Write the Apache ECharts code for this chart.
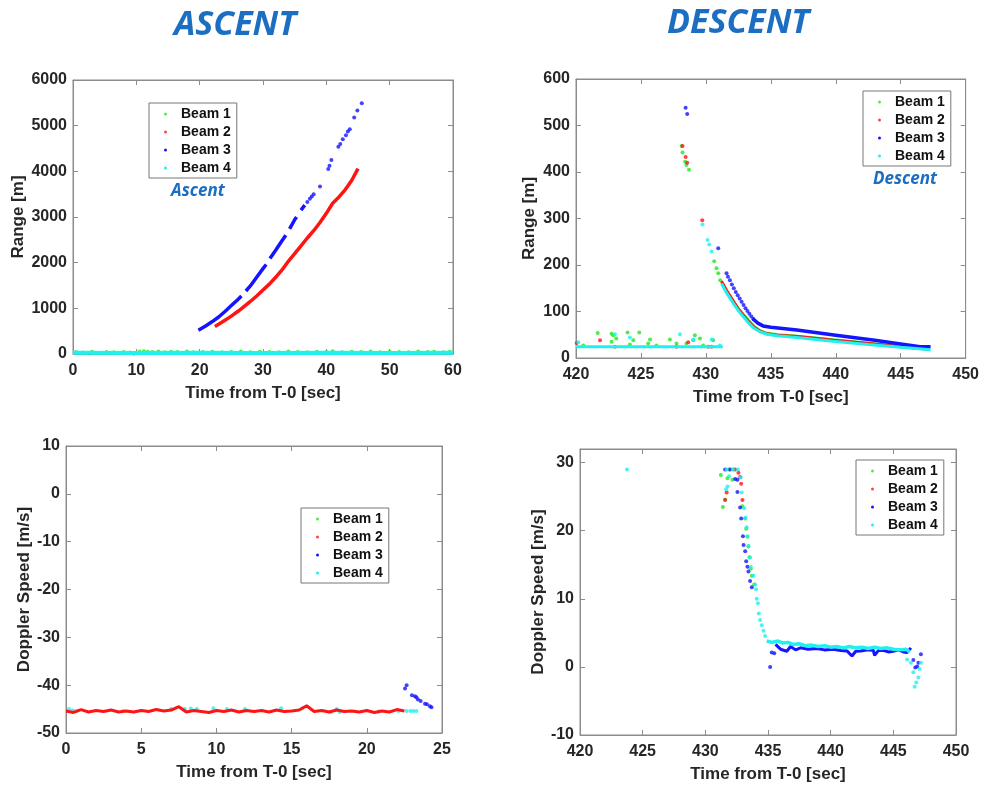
<!DOCTYPE html>
<html>
<head>
<meta charset="utf-8">
<script src="https://cdn.jsdelivr.net/npm/echarts@6/dist/echarts.min.js"></script>
<style>
  html, body { margin: 0; padding: 0; background: #fff; }
  #chart { width: 982px; height: 786px; }
</style>
</head>
<body>
<div id="chart"></div>
<script>
// ---- data ----
const beamNames = ['Beam 1', 'Beam 2', 'Beam 3', 'Beam 4'];
const beamColors = ['#1fe81f', '#ff1414', '#1414ff', '#1ff0f0'];

// ascent, range [m] vs time [s]
const ascRangeB1 = [[0.5,45],[1.5,35],[3,50],[5.3,45],[6.5,38],[8,45],[9,35],[10.5,55],[11.2,60],[11.8,50],[12.5,45],[13.5,55],[14.5,40],[15.5,50],[16.5,45],[18,55],[19,40],[20.5,45],[22,50],[23.5,40],[25,45],[26.5,55],[28,40],[29.5,50],[31,45],[32.5,40],[34,55],[35.5,45],[37,40],[38.5,50],[40,45],[41,60],[42.5,40],[44,50],[45.5,45],[47,55],[48.5,40],[50,50],[51.5,45],[53,40],[54.5,55],[56,45],[57,50],[58.5,40],[59.5,50]];
const ascRangeB2Dots = [[2.6,15],[9.6,10]];
const ascRangeB2 = [[22.4,600],[23,650],[24,740],[25,830],[26,930],[27,1040],[28,1150],[29,1270],[30,1400],[31,1530],[32,1680],[33,1840],[34,2030],[35,2200],[36,2370],[37,2540],[38,2700],[39,2880],[40,3080],[41,3300],[42,3440],[43,3600],[44,3800],[45,4060]];
const ascRangeB3 = [[19.8,520],[21,620],[22,710],[23,810],[24,930],[25,1060],[26,1190],[26.6,1270],[26.9,'-'],[27.3,1380],[28,1490],[29,1680],[30,1870],[30.5,1960],[30.8,'-'],[31.1,2090],[32,2270],[33,2480],[33.6,2600],[33.9,'-'],[34.2,2740],[35,2940],[35.3,3000],[35.6,'-'],[36,3150],[36.6,3260]];
const ascRangeB3Dots = [[37,3330],[37.4,3400],[37.7,3450],[38,3500],[39,3670],[40.3,4050],[40.5,4120],[40.8,4250],[41.9,4540],[42.2,4600],[42.6,4700],[43.1,4790],[43.4,4870],[43.7,4920],[44.4,5180],[44.9,5330],[45.6,5490]];
const ascRangeB4 = [[0,25],[10,22],[20,25],[30,22],[40,25],[50,22],[60,25]];

// descent, range [m] vs time [s]
const desRangeB1Dots = [[420.56,27],[421.67,54],[422.74,52],[422.87,49],[423.1,42],[422.74,35],[423.97,55],[424.15,29],[424.41,38],[424.87,55],[425.56,31],[425.7,40],[426.2,27],[427.23,40],[427.74,31],[428.5,31],[429.03,38],[429.15,49],[429.54,42],[429.79,27],[430.56,38],[428.13,456],[428.2,442],[428.4,422],[428.5,415],[428.7,405],[430.64,208],[430.82,193],[430.95,182],[431.1,167]];
const desRangeB1 = [[431.3,158],[431.6,143],[432.1,122],[432.5,106],[432.9,93],[433.3,80],[433.7,68],[434.2,58],[434.7,53],[435.5,50],[437,47],[439.8,39],[442.5,32],[445,25],[447.2,20]];
const desRangeB2Dots = [[420.05,32],[421.85,38],[423,24],[427.74,24],[428.64,34],[430.18,24],[430.44,24],[428.2,456],[428.44,432],[428.56,420],[429.72,296]];
const desRangeB2 = [[431.2,165],[431.6,145],[432.1,123],[432.5,105],[432.9,91],[433.3,78],[433.7,66],[434.2,57],[434.7,52],[435.5,49],[437,46],[439.8,38],[442.5,31],[445,24],[447.2,19]];
const desRangeB3Dots = [[428.44,538],[428.56,525],[430.95,236],[431.59,182],[431.7,175],[431.85,167],[432,158],[432.15,150],[432.3,142],[432.45,135],[432.6,128],[432.75,121],[432.9,114],[433.05,107],[433.2,101],[433.35,95],[433.5,89],[433.65,84]];
const desRangeB3 = [[433.6,85],[434,75],[434.4,69],[435,66],[437,60],[440,49],[443,38],[445,30],[446.5,24],[447.3,24]];
const desRangeB4Dots = [[420.18,34],[423,51],[424.15,44],[428,51],[429.03,40],[430.44,40],[431.08,27],[429.74,287],[430.13,254],[430.26,244],[430.44,229]];
const desRangeB4Base = [[420,24],[425,24],[431.3,24]];
const desRangeB4 = [[431.2,160],[431.6,140],[432.1,118],[432.5,102],[432.9,88],[433.3,75],[433.7,64],[434.2,56],[434.7,51],[435.5,48],[437,44],[439.8,36],[442.5,29],[445,23],[447.3,18]];

// ascent, doppler speed [m/s] vs time [s]
const dopAscTime = [0,0.5,1,1.5,2,2.5,3,3.5,4,4.5,5,5.5,6,6.5,7,7.5,8,8.5,9,9.5,10,10.5,11,11.5,12,12.5,13,13.5,14,14.5,15,15.5,16,16.5,17,17.5,18,18.5,19,19.5,20,20.5,21,21.5,22,22.5];
const dopAscB2 = [-45.4,-45.7,-45.1,-45.6,-45.3,-45.5,-45.2,-45.6,-45.4,-45.6,-45.3,-45.5,-45.1,-45.4,-45.2,-44.5,-45.6,-45.3,-45.5,-45.7,-45.3,-45.5,-45.2,-45.6,-45.3,-45.5,-45.3,-45.6,-45.2,-45.5,-45.4,-45.2,-44.3,-45.5,-45.3,-45.6,-45.2,-45.5,-45.4,-45.6,-45.3,-45.7,-45.4,-45.6,-45.1,-45.4];
const dopAscB3Dots = [[22.54,-40.7],[22.65,-40.0],[23.0,-42.1],[23.2,-42.3],[23.3,-42.5],[23.4,-43.0],[23.58,-43.3],[23.87,-43.9],[24.0,-44.0],[24.2,-44.4],[24.3,-44.6]];
const dopAscB4Dots = [[0.2,-45.0],[0.45,-45.3],[0.7,-45.4],[3.8,-45.4],[7.0,-45.0],[7.9,-45.0],[8.3,-44.9],[8.7,-45.0],[9.8,-44.8],[10.7,-45.0],[11.9,-45.0],[14.3,-44.8],[15.7,-44.9],[17.6,-45.6],[18.0,-45.0],[18.2,-45.6],[20.8,-45.5],[22.1,-45.4],[22.65,-45.4],[22.9,-45.4],[23.1,-45.4],[23.3,-45.4]];

// descent, doppler speed [m/s] vs time [s]
const dopDesB1Dots = [[431.24,28.2],[431.4,23.5],[431.58,24.6],[431.77,27.7],[431.88,29],[432.16,27.5],[432.24,29],[432.96,23.6],[433.18,21.8],[433.26,20.3],[433.36,19.1],[433.44,17.7],[433.52,16.1],[433.63,14.4],[433.71,13.4],[433.9,12.1]];
const dopDesB2Dots = [[431.58,24.5],[431.7,25.6],[432.38,29],[432.64,28.5],[432.78,27.9],[432.86,26.9],[432.96,24.5]];
const dopDesB3Dots = [[431.58,29],[431.98,29],[432.38,27.6],[432.56,27.5],[432.56,25.7],[432.78,23.4],[432.86,21.8],[433.0,19.2],[433.05,17.9],[433.18,17.0],[433.26,15.5],[433.36,14.7],[433.44,14.0],[433.57,12.6],[433.71,11.7],[435.17,0],[435.3,2.1],[435.5,2.0],[446.6,1.0],[446.75,-0.1],[446.9,0.05],[447.0,0.6],[447.2,1.86]];
const dopDesB3 = [[435.6,3.3],[436,2.6],[436.5,2.3],[436.8,3.0],[437.2,2.5],[437.6,2.8],[438.2,2.6],[438.9,2.7],[439.5,2.5],[440.2,2.6],[440.8,2.4],[441.3,2.35],[441.7,1.6],[442,2.3],[442.4,2.35],[443,2.5],[443.4,2.45],[443.5,1.7],[443.8,2.4],[444.2,2.45],[444.6,2.2],[445,2.3],[445.4,2.5],[445.8,2.2],[446.1,2.1],[446.4,2.8]];
const dopDesB4Dots = [[423.75,29],[431.66,26.1],[431.7,29],[431.77,26.5],[431.9,28],[432.2,29],[432.6,29],[432.83,27.8],[432.9,25.6],[433.1,23.3],[433.2,21.9],[433.3,20.5],[433.36,19.2],[433.44,17.8],[433.57,16.05],[433.63,14.7],[433.84,13.4],[433.97,12.1],[434.05,11.4],[434.1,10.0],[434.19,9.35],[434.27,7.83],[434.37,6.9],[434.5,6.1],[434.64,5.3],[434.77,4.55],[446.1,1.1],[446.4,0.6],[446.6,-0.8],[446.7,-2.9],[446.83,-2.3],[447.0,-1.57],[447.1,-0.3],[447.2,0.6]];
const dopDesB4 = [[434.9,3.8],[435.3,3.6],[435.8,3.8],[436.2,3.5],[436.6,3.6],[437,3.3],[437.5,3.4],[438,3.1],[438.5,3.2],[439,3.0],[439.5,3.1],[440,2.9],[440.5,3.0],[441,2.8],[441.5,3.0],[442,2.8],[442.5,2.9],[443,2.7],[443.5,2.9],[444,2.7],[444.5,2.8],[445,2.6],[445.5,2.5],[446,2.6],[446.3,2.2]];

// ---- chart ----
const myChart = echarts.init(document.getElementById('chart'));
const font = 'Liberation Sans, Arial, sans-serif';
const dark = '#262626';
const frame = '#8c8c8c';

const grids = [
    { left: 73, top: 80, width: 380, height: 274 },
    { left: 576, top: 79, width: 390, height: 279 },
    { left: 66, top: 446, width: 376, height: 287 },
    { left: 580, top: 449, width: 376, height: 286 }
];
const ranges = [
    { x: [0, 60, 10], y: [0, 6000, 1000], yName: 'Range [m]', yGap: 46 },
    { x: [420, 450, 5], y: [0, 600, 100], yName: 'Range [m]', yGap: 38 },
    { x: [0, 25, 5], y: [-50, 10, 10], yName: 'Doppler Speed [m/s]', yGap: 33 },
    { x: [420, 450, 5], y: [-10, 32, 10], yName: 'Doppler Speed [m/s]', yGap: 33 }
];

let xAxis = [], yAxis = [];
ranges.forEach((r, gi) => {
    const step = r.y[2];
    const base = {
        gridIndex: gi, type: 'value', splitLine: { show: false },
        axisLine: { show: true, onZero: false, lineStyle: { color: frame } },
        axisTick: { inside: true, length: 5, lineStyle: { color: frame } }
    };
    xAxis.push(Object.assign({}, base, {
        position: 'bottom', min: r.x[0], max: r.x[1], interval: r.x[2],
        name: 'Time from T-0 [sec]', nameLocation: 'middle', nameGap: 31,
        nameTextStyle: { fontFamily: font, fontWeight: 'bold', fontSize: 17, color: dark },
        axisLabel: { fontFamily: font, fontWeight: 'bold', fontSize: 16, color: dark, margin: 9 }
    }));
    xAxis.push(Object.assign({}, base, {
        position: 'top', min: r.x[0], max: r.x[1], interval: r.x[2], axisLabel: { show: false }
    }));
    yAxis.push(Object.assign({}, base, {
        position: 'left', min: r.y[0], max: r.y[1], interval: step,
        name: r.yName, nameLocation: 'middle', nameGap: r.yGap,
        nameTextStyle: { fontFamily: font, fontWeight: 'bold', fontSize: 17, color: dark },
        axisLabel: {
            fontFamily: font, fontWeight: 'bold', fontSize: 16, color: dark, margin: 6,
            formatter: v => (v % step === 0 ? String(v) : '')
        }
    }));
    yAxis.push(Object.assign({}, base, {
        position: 'right', min: r.y[0], max: r.y[1], interval: step, axisLabel: { show: false }
    }));
});

function dots(bi, gi, data) {
    return {
        name: beamNames[bi], type: 'scatter', xAxisIndex: gi * 2, yAxisIndex: gi * 2,
        symbol: 'circle', symbolSize: 4, itemStyle: { color: beamColors[bi] },
        data: data
    };
}
function trace(bi, gi, data, w) {
    return {
        name: beamNames[bi], type: 'line', xAxisIndex: gi * 2, yAxisIndex: gi * 2,
        showSymbol: false, connectNulls: false,
        itemStyle: { color: beamColors[bi] },
        lineStyle: { color: beamColors[bi], width: w },
        data: data
    };
}

const series = [
    // ascent range
    dots(0, 0, ascRangeB1),
    dots(1, 0, ascRangeB2Dots), trace(1, 0, ascRangeB2, 3.5),
    trace(2, 0, ascRangeB3, 3.5), dots(2, 0, ascRangeB3Dots),
    trace(3, 0, ascRangeB4, 4),
    // descent range
    dots(0, 1, desRangeB1Dots), trace(0, 1, desRangeB1, 3),
    dots(1, 1, desRangeB2Dots), trace(1, 1, desRangeB2, 3),
    dots(2, 1, desRangeB3Dots), trace(2, 1, desRangeB3, 3.5),
    dots(3, 1, desRangeB4Dots), trace(3, 1, desRangeB4Base, 3), trace(3, 1, desRangeB4, 3),
    // ascent doppler
    dots(0, 2, []),
    trace(1, 2, dopAscTime.map((t, i) => [t, dopAscB2[i]]), 3),
    dots(2, 2, dopAscB3Dots),
    dots(3, 2, dopAscB4Dots),
    // descent doppler
    dots(0, 3, dopDesB1Dots),
    dots(1, 3, dopDesB2Dots),
    dots(2, 3, dopDesB3Dots), trace(2, 3, dopDesB3, 3),
    trace(3, 3, dopDesB4, 3.5), dots(3, 3, dopDesB4Dots)
];

const legendBoxes = [
    { left: 149, top: 103 },
    { left: 863, top: 91 },
    { left: 301, top: 508 },
    { left: 856, top: 460 }
];
const legend = legendBoxes.map(p => ({
    left: p.left, top: p.top, orient: 'vertical',
    data: beamNames.map(n => ({ name: n, icon: 'circle' })),
    itemWidth: 3, itemHeight: 3, itemGap: 4,
    padding: [4, 6, 3, 15],
    borderColor: '#777', borderWidth: 1, backgroundColor: '#fff',
    textStyle: { fontFamily: font, fontWeight: 'bold', fontSize: 14, color: '#111', lineHeight: 14, padding: [0, 0, 0, 9] }
}));

const titleStyle = { fontFamily: 'Open Sans, sans-serif', fontWeight: 'bold', fontStyle: 'italic', fontSize: 34, fill: '#1b6ec2', textAlign: 'left', textVerticalAlign: 'top' };
const noteStyle = { fontFamily: 'Open Sans, sans-serif', fontWeight: 'bold', fontStyle: 'italic', fontSize: 17, fill: '#1b6ec2', textAlign: 'left', textVerticalAlign: 'top' };

myChart.setOption({
    animation: false,
    backgroundColor: '#fff',
    grid: grids.map(g => Object.assign({ show: true, borderColor: frame, borderWidth: 1, backgroundColor: '#fff' }, g)),
    xAxis: xAxis,
    yAxis: yAxis,
    legend: legend,
    graphic: [
        { type: 'text', left: 174, top: 8, style: Object.assign({}, titleStyle, { text: 'ASCENT' }) },
        { type: 'text', left: 667, top: 6, style: Object.assign({}, titleStyle, { text: 'DESCENT' }) },
        { type: 'text', left: 171, top: 183, style: Object.assign({}, noteStyle, { text: 'Ascent' }) },
        { type: 'text', left: 873, top: 171, style: Object.assign({}, noteStyle, { text: 'Descent' }) }
    ],
    series: series
});
</script>
</body>
</html>
